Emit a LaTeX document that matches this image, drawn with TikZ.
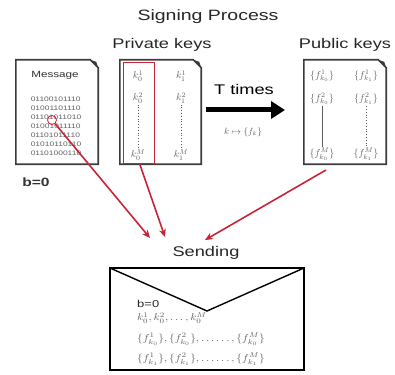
\documentclass[tikz,border=0pt]{standalone}
\usepackage[no-math]{fontspec}
\setmainfont{Liberation Sans}[FakeStretch=1.3]
\usetikzlibrary{arrows.meta,calc}

\definecolor{inkgray}{RGB}{60,60,60}
\definecolor{mathgray}{RGB}{95,95,95}
\definecolor{sigred}{RGB}{200,35,55}

\tikzset{
  paper/.style={minimum width=82, minimum height=104, inner sep=0pt},
  paperline/.style={draw=inkgray, line width=1.6pt, line join=miter},
  heading/.style={font=\fontsize{14}{16}\selectfont, text=black!85},
  entry/.style={text=mathgray, inner sep=1pt, font=\normalsize},
  bits/.style={text=mathgray, font=\fontsize{6.5}{9}\selectfont, align=left, inner sep=0pt},
  redarrow/.style={draw=sigred, line width=1.6pt, -{Stealth[length=8pt,width=7pt]}},
  envtext/.style={anchor=west, text=mathgray, inner sep=0pt, font=\normalsize},
}

% outline of a sheet with a folded top-right corner
\newcommand\foldedsheet[1]{%
  \draw[paperline] (#1.south west) -- (#1.north west) -- ([xshift=-8pt]#1.north east)
    -- ([yshift=-8pt]#1.north east) -- (#1.south east) -- cycle;
  \fill[inkgray] ([xshift=-8pt]#1.north east) -- ([yshift=-8pt]#1.north east)
    -- ([xshift=-2pt,yshift=-2pt]#1.north east) -- cycle;
}
% envelope lines are set slightly wider than their natural width
\newcommand\widemath[1]{\scalebox{1.14}[1]{$#1$}}

\begin{document}
\begin{tikzpicture}[x=1pt,y=-1pt]
\useasboundingbox (0,0) rectangle (395,374);

% headings
\node[font=\fontsize{15}{17}\selectfont, text=black!85] (title) at (208,17) {Signing Process};
\node[heading] (privlabel) at (162,45) {Private keys};
\node[heading] (publabel) at (345,45) {Public keys};

% message sheet
\node[paper] (msg) at (57,112) {};
\foldedsheet{msg}
\node[font=\fontsize{9}{10}\selectfont, text=black!80] (msgtitle) at (55,75) {Message};
\node[bits, anchor=north] (bitblock) at (56,97) {01100101110\\01001101110\\01101011010\\01001011110\\01101011110\\01010110110\\01101000110};
\node[draw=sigred, line width=0.8pt, circle, minimum size=9pt, inner sep=0pt] (bit) at (52,120) {};
\node[font=\bfseries\fontsize{12}{14}\selectfont, text=black!80] (bzero) at (36,182) {b=0};

% private keys sheet
\node[paper, minimum width=81] (priv) at (160.5,112) {};
\foldedsheet{priv}
\node[draw=sigred, line width=0.8pt, minimum width=31, minimum height=101, inner sep=0pt] (redbox) at (138.5,112.5) {};
\node[entry] (k01) at (138,76) {$k_0^1$};
\node[entry] (k02) at (138,98) {$k_0^2$};
\node[entry] (k0M) at (138,155) {$k_0^M$};
\node[entry] (k11) at (181,76) {$k_1^1$};
\node[entry] (k12) at (181,98) {$k_1^2$};
\node[entry] (k1M) at (181,155) {$k_1^M$};
\draw[mathgray, dotted, line width=0.8pt] (k02) -- (k0M);
\draw[mathgray, dotted, line width=0.8pt] (k12) -- (k1M);

% T times arrow
\coordinate (tstart) at (206,110);
\coordinate (tend) at (285,110);
\draw[line width=5pt, -{Triangle[length=14pt,width=17pt]}] (tstart) -- (tend);
\node[font=\fontsize{14}{16}\selectfont] (ttimes) at (244,89) {T times};
\node[text=mathgray, font=\small] (kmap) at (243,132) {$k \mapsto \{f_k\}$};

% public keys sheet
\node[paper] (pub) at (345,112) {};
\foldedsheet{pub}
\node[entry] (f01) at (322,76) {$\{f^1_{k_0}\}$};
\node[entry] (f02) at (322,99) {$\{f^2_{k_0}\}$};
\node[entry] (f0M) at (322,154) {$\{f^M_{k_0}\}$};
\node[entry] (f11) at (366,76) {$\{f^1_{k_1}\}$};
\node[entry] (f12) at (366,99) {$\{f^2_{k_1}\}$};
\node[entry] (f1M) at (366,154) {$\{f^M_{k_1}\}$};
\draw[mathgray, line width=0.6pt] (f02) -- (f0M);
\draw[mathgray, dotted, line width=0.8pt] (f12) -- (f1M);

% envelope
\node[heading] (sendlabel) at (206,253) {Sending};
\node[draw=black, line width=2.6pt, minimum width=194, minimum height=102, inner sep=0pt] (env) at (207,319) {};
\coordinate (vtip) at (207,311);
\draw[black, line width=1.4pt] ([shift={(1.3pt,-1.3pt)}]env.north west) -- (vtip) -- ([shift={(-1.3pt,-1.3pt)}]env.north east);
\node[envtext, text=black!85, font=\fontsize{10}{12}\selectfont] (ebzero) at (137,304) {b=0};
\node[envtext] (ek) at (137,318) {\widemath{k_0^1, k_0^2, \ldots, k_0^M}};
\node[envtext] (ef0) at (137,339) {\widemath{\{f^1_{k_0}\}, \{f^2_{k_0}\}, \ldots\ldots, \{f^M_{k_0}\}}};
\node[envtext] (ef1) at (137,359) {\widemath{\{f^1_{k_1}\}, \{f^2_{k_1}\}, \ldots\ldots, \{f^M_{k_1}\}}};

% red connectors into the envelope
\coordinate (in1) at (150,238);
\coordinate (in2) at (165,237);
\coordinate (in3) at (205,240);
\coordinate (pubout) at (326,170);
\draw[redarrow] (bit) -- (in1);
\draw[redarrow] ([xshift=1pt]redbox.south) -- (in2);
\draw[redarrow] (pubout) -- (in3);
\end{tikzpicture}
\end{document}
